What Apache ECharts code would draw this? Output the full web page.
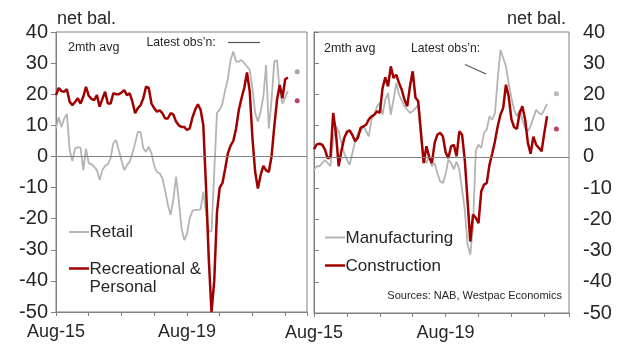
<!DOCTYPE html>
<html>
<head>
<meta charset="utf-8">
<script src="https://cdn.jsdelivr.net/npm/echarts@6/dist/echarts.min.js"></script>
<style>
  html, body { margin: 0; padding: 0; background: #ffffff; }
  #chart { width: 625px; height: 345px; }
</style>
</head>
<body>
<div id="chart"></div>
<script>
// Monthly business conditions, net balance, 2-month average; month 0 = Aug-15
const retail = [
  9, 12.6, 9.5, 12.2, 13.6, 2, -1.5, 2.6, 3, 2.8,
  -4.4, 2.5, -2.2, -2.5, -3.3, -4.4, -7.6, -4.4, -3, -2.5,
  -0.6, 4.2, 5.3, 2, -1.2, -4.4, -2.8, -1.7, 1, 4.2,
  7.9, 7.9, 2.6, 1.5, 3.1, 1, -3, -5, -5.4, -7,
  -11, -15.5, -18.8, -14, -6.5, -14, -23, -26.9, -25, -20,
  -17.5, -17.2, -17.2, -17, -11.3, -18, -24.2, -24, -5, 14,
  15, 17, 21.3, 25, 31, 33.7, 30.5, 30.5, 31, 30,
  29, 27.8, 22, 14, 11.2, 14.4, 19.2, 29.4, 9, 18,
  30.4, 31, 21, 17, 19, 21
];
const recreational = [
  19.7, 22, 21, 20.8, 21.6, 17.6, 16.5, 17.5, 18.7, 17,
  19.2, 22.4, 19.5, 18.5, 18.1, 19.7, 16, 18.5, 20.8, 17,
  17, 20.3, 20, 20, 20.5, 21.3, 19.7, 20.3, 17.6, 13.9,
  15.5, 16.5, 18.7, 22.4, 22, 17, 15.5, 14.4, 14.8, 13.9,
  12.2, 12.2, 13.9, 13.5, 11.2, 10, 9.5, 9.5, 8.5, 9,
  12.5, 15, 16.8, 15, 10, -10, -33, -50, -40, -18,
  -10, -8.6, -4, 1, 3.5, 5, 9, 14.9, 18.7, 22,
  27, 21, 6, -5, -10.3, -6, -3, -4.5, -5, 0,
  9.5, 18.1, 23, 18.7, 24.8, 25.4
];
const manufacturing = [
  -4.1, -3, -3, -2, -1, -2, -3, 5.5, 9.8, 8.2,
  4.5, 1.2, -0.9, -2.5, 1.2, 5, 7.5, 8.2, 9.8, 8.2,
  6.6, 12, 13.5, 16.2, 17.3, 13.5, 18.3, 20.5, 13.5, 18.3,
  23.7, 20, 18, 16.2, 15.1, 14.1, 14.6, 15.5, 16.7, 6,
  -0.4, -2, 0.2, -3, -2, -5.2, -7.8, -8.4, -5.5, -1,
  -2, -4, -1.5, -4, -10.5, -17, -28, -31.3, -22, 2,
  3.9, 2.9, 7.7, 8.7, 13, 11.9, 14, 25, 34.3, 31.7,
  29, 23.7, 18.9, 15.1, 13, 15.1, 11.9, 9.3, 8.2, 9.8,
  12.5, 15.1, 14.1, 13.5, 15.1, 17
];
const construction = [
  2.5, 4, 4.2, 3.9, 2.3, -0.5, 0, 14.1, 7.7, -3,
  2, 6, 8, 8.5, 7, 5, 6.1, 9.3, 9.8, 10.3,
  12, 13, 13.5, 14.6, 14.1, 22, 25.5, 22.6, 29, 25.3,
  26.3, 23.7, 21.5, 18.3, 16.2, 22.6, 27.4, 19, 17.8, 8,
  -2, 3.4, 0, -2, 4.5, 7.1, 7.7, 6.6, 1.5, -0.4,
  3.4, 3.9, 0.2, 8.2, 7.1, -1, -14, -27.1, -18.5, -19.5,
  -21.2, -11, -8.9, -8.4, -2.5, 1, 5, 9.8, 13.5, 15.7,
  23.1, 19.4, 12, 9.5, 9, 14, 16.2, 12, 4.5, 1,
  6.5, 3.9, 2.9, 1.8, 7.7, 13
];

// Latest single-month observations (plotted as dots past the end of the lines)
const latestMonth = 88.4;
const latestRetail = 27.2;
const latestRecreational = 17.9;
const latestManufacturing = 20.2;
const latestConstruction = 8.9;

// Axis labels
const xTickMonths = [0, 48];
const xTickNames = ['Aug-15', 'Aug-19'];

const FONT = '"Liberation Sans", Arial, sans-serif';
const TXT = '#262626';
const AX = '#808080';
const GREY = '#b4b4b4';
const RED = '#a00000';

const toPairs = arr => arr.map((v, i) => [i, v]);

function makeX(gi, max) {
  return {
    gridIndex: gi, type: 'value', min: 0, max: max, interval: 12,
    axisLine: { show: true, onZero: false, lineStyle: { color: AX, width: 1 } },
    axisTick: { show: true, length: 4, lineStyle: { color: AX } },
    splitLine: { show: false },
    axisLabel: {
      margin: 11, fontSize: 18, fontFamily: FONT, color: TXT,
      formatter: v => { const k = xTickMonths.indexOf(v); return k >= 0 ? xTickNames[k] : ''; }
    }
  };
}
function makeY(gi, pos, margin) {
  return {
    gridIndex: gi, type: 'value', position: pos, min: -50, max: 40, interval: 10,
    axisLine: { show: true, lineStyle: { color: AX, width: 1 } },
    axisTick: { show: true, length: 5, lineStyle: { color: AX } },
    splitLine: { show: false },
    axisLabel: { margin: margin, fontSize: 20, fontFamily: FONT, color: TXT }
  };
}
const zeroLine = {
  silent: true, symbol: 'none', label: { show: false },
  lineStyle: { color: AX, width: 1, type: 'solid' },
  data: [{ yAxis: 0 }]
};
function lineSeries(name, data, gi, color, width, withZero) {
  const s = {
    name: name, type: 'line', xAxisIndex: gi, yAxisIndex: gi,
    data: toPairs(data), symbol: 'none', smooth: false,
    lineStyle: { color: color, width: width }, itemStyle: { color: color }
  };
  if (withZero) s.markLine = zeroLine;
  return s;
}
function dotSeries(gi, pts) {
  return {
    type: 'scatter', xAxisIndex: gi, yAxisIndex: gi, symbolSize: 5,
    data: pts.map(p => ({ value: [latestMonth, p[0]], itemStyle: { color: p[1] } }))
  };
}

function txt(x, y, text, size, align) {
  return {
    type: 'text', x: x, y: y, silent: true,
    style: { text: text, fill: TXT, font: size + 'px ' + FONT, textAlign: align || 'left', textVerticalAlign: 'middle' }
  };
}
function seg(x1, y1, x2, y2, color, w) {
  return { type: 'line', silent: true, shape: { x1, y1, x2, y2 }, style: { stroke: color, lineWidth: w } };
}

const chart = echarts.init(document.getElementById('chart'), null, { renderer: 'canvas' });
chart.setOption({
  animation: false,
  backgroundColor: '#ffffff',
  grid: [
    { left: 56, top: 32, width: 251, height: 280, show: true, borderColor: AX, borderWidth: 1, backgroundColor: 'transparent' },
    { left: 314, top: 32, width: 255, height: 281, show: true, borderColor: AX, borderWidth: 1, backgroundColor: 'transparent' }
  ],
  xAxis: [makeX(0, 92), makeX(1, 93)],
  yAxis: [makeY(0, 'left', 8), makeY(1, 'right', 14)],
  series: [
    lineSeries('Retail', retail, 0, GREY, 1.8, true),
    lineSeries('Recreational & Personal', recreational, 0, RED, 2.5, false),
    dotSeries(0, [[latestRetail, '#9c8b82'], [latestRecreational, '#a8123e']]),
    lineSeries('Manufacturing', manufacturing, 1, GREY, 1.8, true),
    lineSeries('Construction', construction, 1, RED, 2.5, false),
    dotSeries(1, [[latestManufacturing, '#a6a6a6'], [latestConstruction, '#a8123e']])
  ],
  graphic: [
    txt(57, 19.5, 'net bal.', 18),
    txt(566, 19, 'net bal.', 18, 'right'),
    txt(68, 47.5, '2mth avg', 12.5),
    txt(146.5, 43, 'Latest obs\u2019n:', 12.2),
    seg(228, 42.5, 260, 42.5, '#555555', 1.2),
    txt(324, 48.5, '2mth avg', 12.5),
    txt(411, 48.5, 'Latest obs\u2019n:', 12.2),
    seg(465, 64.5, 486, 74, '#555555', 1.2),
    // left legend
    seg(69, 232, 89, 232, GREY, 2),
    txt(89.5, 232, 'Retail', 17),
    seg(69, 268.5, 89, 268.5, RED, 2.5),
    txt(89.5, 269, 'Recreational &', 17),
    txt(89.5, 287.5, 'Personal', 17),
    // right legend
    seg(325, 237.5, 345, 237.5, GREY, 2),
    txt(345.5, 238, 'Manufacturing', 17),
    seg(325, 265.5, 345, 265.5, RED, 2.5),
    txt(345.5, 266, 'Construction', 17),
    txt(562, 295.5, 'Sources: NAB, Westpac Economics', 11, 'right')
  ]
});
</script>
</body>
</html>
